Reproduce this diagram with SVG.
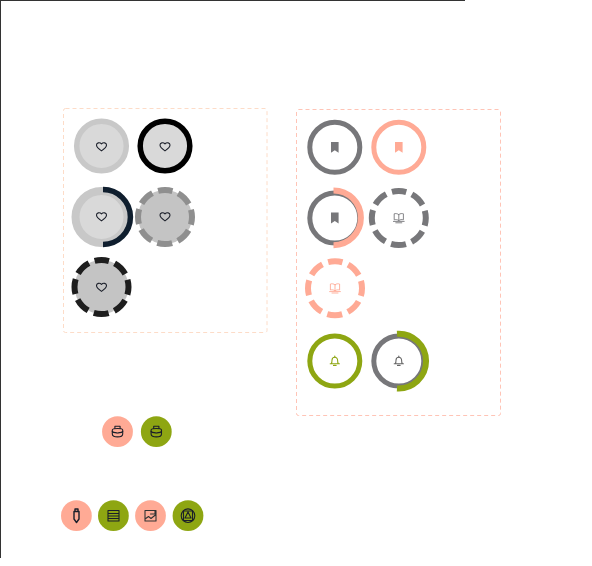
<svg xmlns="http://www.w3.org/2000/svg" width="592" height="566" viewBox="0 0 592 566">
<style>
.ring{fill:none}
.dash{fill:none;stroke-width:6;stroke-dasharray:15.2 6;stroke-dashoffset:7.6}
.ic{fill:none;stroke-width:1.1;stroke-linejoin:round;stroke-linecap:round}
.box{fill:none;stroke-dasharray:4 3;stroke-width:1}
</style>
<defs>
<path id="heart" d="M0 4.4C-2.2 3-5 1-5-1.4-5-3.8-1.8-4.6 0-2.6 1.8-4.6 5-3.8 5-1.4 5 1 2.2 3 0 4.4Z"/>
<path id="mark" d="M-3.8-5.4H3.8V5.4L0 3-3.8 5.4Z"/>
<g id="book"><path d="M0-3.4C-1.4-4.6-3.4-4.6-4.6-4.2V1.8C-3.2 1.4-1.2 1.6 0 2.6 1.2 1.6 3.2 1.4 4.6 1.8V-4.2C3.4-4.6 1.4-4.6 0-3.4V2.6"/><path d="M-5.4 3.4H5.4M-3 4.8H3"/></g>
<g id="bell"><path d="M-3.6 2.8C-2.8 1.8-2.8 .6-2.8-.8-2.8-2.6-1.6-3.8 0-3.8 1.6-3.8 2.8-2.6 2.8-.8 2.8 .6 2.8 1.8 3.6 2.8ZM-4.6 2.8H4.6"/><path d="M-1.3 4.4H1.3M0-3.8V-5"/></g>
<g id="pump"><path d="M-5.2-1.6C-5.2-3-3-3.2 0-3.2 3-3.2 5.2-3 5.2-1.6V2.2C5.2 4.4 3 5.2 0 5.2-3 5.2-5.2 4.4-5.2 2.2Z"/><path d="M-5.2-.2C-3.4 1.6-1.6 .4 0 1.4 1.6 .4 3.4 1.6 5.2-.2M-2.6-3.2V-5.4H2.6V-3.2"/></g>
</defs>
<g id="frame" fill="#333"><rect x="0" y="0" width="465" height="1"/><rect x="0" y="0" width="1" height="558"/></g>
<g id="group-left"><rect class="box" x="63.5" y="108.5" width="203.5" height="224" rx="2" stroke="#fddcc8"/></g>
<g id="group-right"><rect class="box" x="296.5" y="109.5" width="204" height="306" rx="2" stroke="#ffc4b6"/></g>

<g id="heart-1"><circle cx="101.5" cy="146" r="24.8" fill="#d9d9d9" stroke="#c8c8c8" stroke-width="5.5"/><use href="#heart" x="101.5" y="146.5" class="ic" stroke="#1b1f2a"/></g>
<g id="heart-2"><circle cx="165" cy="146" r="24.8" fill="#d9d9d9" stroke="#000" stroke-width="5.5"/><use href="#heart" x="165" y="146.5" class="ic" stroke="#1b1f2a"/></g>
<g id="heart-3"><circle cx="101.5" cy="217" r="26" fill="#d9d9d9" stroke="#c8c8c8" stroke-width="8"/><path d="M103 189.6A27.4 27.4 0 1 1 103 244.4" fill="none" stroke="#0f1e2e" stroke-width="5.5"/><use href="#heart" x="101.5" y="216.5" class="ic" stroke="#1b1f2a"/></g>
<g id="heart-4"><circle cx="165" cy="217" r="27" fill="#c4c4c4"/><circle class="dash" cx="165" cy="217" r="27" stroke="#8f8f8f" transform="rotate(-90 165 217)"/><use href="#heart" x="165" y="216.5" class="ic" stroke="#1b1f2a"/></g>
<g id="heart-5"><circle cx="101.5" cy="287" r="27" fill="#c4c4c4"/><circle class="dash" cx="101.5" cy="287" r="27" stroke="#1e1e1e" transform="rotate(-90 101.5 287)"/><use href="#heart" x="101.5" y="287" class="ic" stroke="#1b1f2a"/></g>

<g id="mark-1"><circle cx="334.8" cy="147.3" r="25" fill="#fff" stroke="#77777a" stroke-width="5"/><use href="#mark" x="334.8" y="147.3" fill="#77777a"/></g>
<g id="mark-2"><circle cx="398.8" cy="147.3" r="25" fill="#fff" stroke="#ffaa95" stroke-width="5"/><use href="#mark" x="398.8" y="147.3" fill="#ffaa95"/></g>
<g id="mark-3"><circle cx="334.8" cy="218" r="25" fill="#fff" stroke="#77777a" stroke-width="5"/><path d="M333.5 190.4A27.4 27.4 0 1 1 333.5 245.2" fill="none" stroke="#ffaa95" stroke-width="6"/><use href="#mark" x="334.8" y="218" fill="#77777a"/></g>
<g id="book-1"><circle class="dash" cx="398.8" cy="218" r="27" stroke="#77777a" transform="rotate(-90 398.8 218)"/><use href="#book" x="398.8" y="218" class="ic" stroke="#77777a" style="stroke-width:.9"/></g>
<g id="book-2"><circle class="dash" cx="335" cy="288.2" r="27" stroke="#ffaa95" transform="rotate(-90 335 288.2)"/><use href="#book" x="335" y="288.2" class="ic" stroke="#ffaa95" style="stroke-width:.9"/></g>
<g id="bell-1"><circle cx="334.8" cy="361" r="25" fill="#fff" stroke="#8ea612" stroke-width="5"/><use href="#bell" x="334.8" y="361" class="ic" stroke="#8ea612"/></g>
<g id="bell-2"><circle cx="398.8" cy="361" r="25" fill="#fff" stroke="#77777a" stroke-width="5"/><path d="M397 333.7A27.4 27.4 0 1 1 397 388.4" fill="none" stroke="#8ea612" stroke-width="6"/><use href="#bell" x="398.8" y="361" class="ic" stroke="#666"/></g>

<g id="btn-1"><circle cx="117.5" cy="431.7" r="15.4" fill="#ffaa95"/><use href="#pump" x="117.5" y="431.7" class="ic" stroke="#1b1f2a"/></g>
<g id="btn-2"><circle cx="156.3" cy="431.7" r="15.4" fill="#8ea612"/><use href="#pump" x="156.3" y="431.7" class="ic" stroke="#1b1f2a"/></g>
<g id="btn-3"><circle cx="76.4" cy="515.7" r="15.4" fill="#ffaa95"/><path class="ic" stroke="#1b1f2a" d="M74 511.5H79V519L76.5 522.5 74 519ZM75 511.5V509H78V511.5" style="stroke-width:1.4"/></g>
<g id="btn-4"><circle cx="113.4" cy="515.7" r="15.4" fill="#8ea612"/><path class="ic" stroke="#1b1f2a" d="M108 510.5H119V521H108ZM108 513.5H119M108 516H119M108 518.5H119"/></g>
<g id="btn-5"><circle cx="150.5" cy="515.7" r="15.4" fill="#ffaa95"/><path class="ic" stroke="#333" d="M145 510.5H156V521H145ZM145 519L148.5 516.5 151 518.5 156 514.5M150.5 514H155V510.5"/></g>
<g id="btn-6"><circle cx="188" cy="515.7" r="15.4" fill="#8ea612"/><path class="ic" stroke="#1b1f2a" d="M188 512L191 518H185ZM183.5 511H192.5V520.5H183.5Z"/><circle class="ic" stroke="#1b1f2a" cx="188" cy="515.7" r="6.8"/></g>
</svg>
